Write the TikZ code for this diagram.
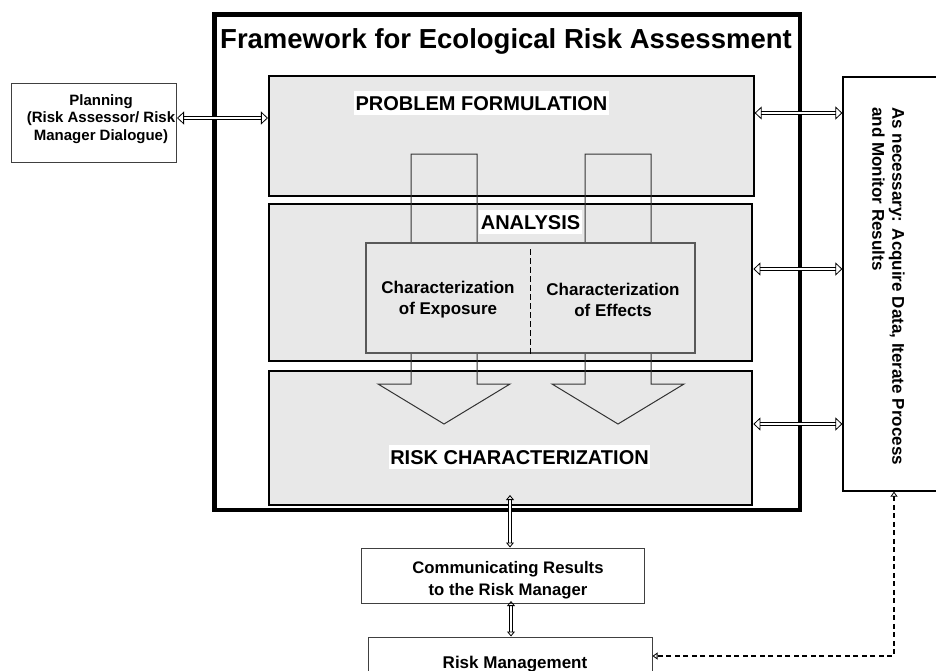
\documentclass[tikz,border=0pt]{standalone}
\usepackage{fontspec}
\setmainfont{Liberation Sans}
\usetikzlibrary{arrows.meta}

\begin{document}
\begin{tikzpicture}[x=1pt,y=-1pt,
    sec/.style={draw, line width=2pt, fill=black!9, inner sep=0pt},
    plainbox/.style={draw=black!75, line width=1pt, inner sep=0pt},
    phase/.style={fill=white, inner xsep=1.5pt, inner ysep=1pt, text height=18pt, text depth=4pt, anchor=base, font=\bfseries\fontsize{20}{24}\selectfont},
    dbl/.style={double=white, double distance=2.8pt, line width=1pt,
      {Triangle[open,length=7pt,width=13pt,line width=0.8pt 0 0]}-{Triangle[open,length=7pt,width=13pt,line width=0.8pt 0 0]}},
    dblsmall/.style={double=white, double distance=2.6pt, line width=1pt,
      {Triangle[open,length=5pt,width=8pt,line width=0.8pt 0 0]}-{Triangle[open,length=5pt,width=8pt,line width=0.8pt 0 0]}},
    feedback/.style={line width=1.2pt, dash pattern=on 5pt off 3.5pt,
      {Triangle[open,length=5pt,width=7pt,line width=0.8pt]}-{Triangle[open,length=5pt,width=7pt,line width=0.8pt]}}]
  \useasboundingbox (0,0) rectangle (936,670);
  \clip (0,0) rectangle (936,670);
  % frame and title
  \node[draw, line width=4.5pt, minimum width=585.3, minimum height=495.3, inner sep=0pt] (F) at (507.3,262.3) {};
  \node[anchor=base, font=\bfseries\fontsize{27.5}{32}\selectfont] (T) at (506,48) {Framework for Ecological Risk Assessment};
  % the three phases
  \node[sec, minimum width=484.7, minimum height=119.5] (PF) at (511.3,136) {};
  \node[sec, minimum width=483.3, minimum height=157] (AN) at (510.7,282) {};
  \node[sec, minimum width=483.3, minimum height=134] (RC) at (510.7,438.4) {};
  % channels from problem formulation down to risk characterization
  \foreach \cx in {444,618}
    \draw[black!80, line width=1pt] ({\cx-33},154) -- ({\cx-33},384) -- ({\cx-66},384) -- (\cx,424)
      -- ({\cx+66},384) -- ({\cx+33},384) -- ({\cx+33},154) -- cycle;
  % exposure / effects
  \node[draw=black!65, line width=1.2pt, fill=black!9, minimum width=329, minimum height=110, inner sep=0pt] (CH) at (530.5,298) {};
  \draw[line width=1.3pt, dash pattern=on 6pt off 3pt] (CH.south) -- ++(0,-105);
  \node[align=center, font=\bfseries\fontsize{17}{21}\selectfont] (CE) at (448,300) {Characterization\\of Exposure};
  \node[align=center, font=\bfseries\fontsize{17}{21}\selectfont] (CF) at (613,300) {Characterization\\of Effects};
  % phase names
  \node[phase] (PFt) at (481.5,110) {PROBLEM FORMULATION};
  \node[phase] (ANt) at (530.5,229) {ANALYSIS};
  \node[phase] (RCt) at (519.5,464) {RISK CHARACTERIZATION};
  % boxes outside the frame
  \node[plainbox, minimum width=165, minimum height=79] (PL) at (93.5,122.5) {};
  \node[align=center, font=\bfseries\fontsize{15}{17.5}\selectfont] (PLt) at (101,118.7) {Planning\\(Risk Assessor/ Risk\\Manager Dialogue)};
  \node[draw, line width=1.2pt, minimum width=102, minimum height=414, inner sep=0pt] (AQ) at (894,284) {};
  \node[rotate=-90, anchor=north west, inner sep=0pt, align=left, font=\bfseries\fontsize{17}{20}\selectfont] (AQt) at (905,107) {As necessary: Acquire Data, Iterate Process\\and Monitor Results};
  \node[plainbox, minimum width=283, minimum height=55] (CR) at (502.5,575.5) {};
  \node[align=center, font=\bfseries\fontsize{16.7}{21.5}\selectfont] (CRt) at (508,580) {Communicating Results\\to the Risk Manager};
  \node[plainbox, minimum width=284, minimum height=38] (RM) at (510,656) {};
  \node[anchor=base, font=\bfseries\fontsize{17}{20}\selectfont] (RMt) at (515,668) {Risk Management};
  % connectors
  \coordinate (p0) at (177,118);
  \draw[dbl] (p0) -- (p0 -| PF.west);
  \foreach \b/\y in {PF/113, AN/269, RC/424}
    \draw[dbl] (\b.east |- 0,\y) -- (AQ.west |- 0,\y);
  \coordinate (p1) at (510,495);
  \draw[dblsmall] (p1) -- (p1 |- CR.north);
  \coordinate (p2) at (511,601);
  \draw[dblsmall] (p2) -- (p2 |- RM.north);
  \draw[feedback] (AQ.south) |- (RM.east);
\end{tikzpicture}
\end{document}
